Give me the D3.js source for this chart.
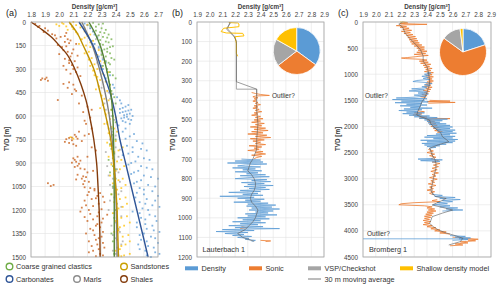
<!DOCTYPE html>
<html>
<head>
<meta charset="utf-8">
<script src="https://cdn.jsdelivr.net/npm/d3@7"></script>
<style>
  body { margin: 0; background: #fff; }
  svg { display: block; font-family: "Liberation Sans", Arial, sans-serif; }
  .tick text { fill: #404040; }
</style>
</head>
<body>
<svg id="chart" width="500" height="290"></svg>
<script>
// ---- panel (a): lithology scatter, [depth m, density g/cm3]
const shalesPts = [[12,1.83],[25,1.86],[32,1.85],[40,1.90],[55,1.92],[64,1.89],[70,2.05],[78,1.95],[90,2.04],[105,1.98],[118,2.08],[127,2.04],[140,2.12],[147,1.99],[160,2.02],[175,2.10],[190,2.06],[205,2.00],[220,2.08],[235,2.04],[250,2.11],[262,2.07],[275,2.09],[290,2.13],[305,2.05],[320,2.12],[345,2.15],[360,1.88],[365,1.90],[370,1.87],[375,1.92],[385,2.07],[400,2.10],[420,2.06],[440,2.12],[470,2.16],[498,1.99],[540,2.20],[575,2.17],[610,2.22],[650,2.19],[700,2.14],[715,2.21],[725,2.18],[732,2.12],[740,2.07],[748,2.05],[755,2.09],[765,2.04],[780,2.10],[800,2.23],[820,2.26],[860,2.20],[880,2.11],[892,2.12],[905,2.14],[918,2.13],[935,2.15],[950,2.24],[985,2.17],[1000,2.16],[1015,2.18],[1029,1.92],[1040,1.96],[1047,1.94],[1060,2.22],[1075,2.25],[1092,2.29],[1110,2.27],[1130,2.23],[1150,2.32],[1170,2.19],[1185,2.16],[1200,2.21],[1215,2.28],[1230,2.34],[1245,2.18],[1260,2.24],[1280,2.30],[1300,2.26],[1320,2.22],[1340,2.31],[1360,2.25],[1380,2.28],[1400,2.21],[1420,2.27],[1440,2.32],[1460,2.24],[1480,2.29],[1495,2.26],
  [1105,2.20],[1115,2.31],[1125,2.26],[1140,2.18],[1160,2.28],[1175,2.24],[1195,2.30],[1210,2.15],[1225,2.22],[1240,2.27],[1255,2.31],[1270,2.20],[1290,2.27],[1310,2.29],[1330,2.24],[1350,2.19],[1370,2.30],[1390,2.26],[1410,2.31],[1430,2.23],[1450,2.28],[1470,2.21],[1490,2.31],[860,2.13],[870,2.10],[885,2.15],[898,2.09],[925,2.11],[940,2.18],[960,2.20],[975,2.13],[990,2.19],[1005,2.12],[1020,2.21],[1035,2.17],[1055,2.18],[1065,2.25],[1085,2.21],[720,2.11],[738,2.09],[745,2.13],[760,2.16],[772,2.07],[790,2.12],[85,1.97],[95,2.01],[110,2.06],[135,2.07],[155,2.05],[180,2.03],[200,2.09],[215,2.13],[245,2.07],[280,2.03],[300,2.10],[330,2.08],[355,1.91],[395,2.03],[430,2.11],[460,2.09],[520,2.14],[560,2.23],[630,2.18],[680,2.23]];
const sandPts = [[5,2.02],[10,2.08],[15,1.98],[20,2.12],[28,2.05],[35,2.15],[45,2.10],[60,2.18],[75,2.13],[90,2.20],[110,2.16],[130,2.22],[150,2.19],[170,2.25],[190,2.21],[210,2.27],[230,2.23],[250,2.29],[270,2.25],[290,2.30],[310,2.24],[330,2.31],[350,2.27],[380,2.33],[410,2.28],[440,2.34],[470,2.30],[500,2.35],[530,2.31],[560,2.37],[590,2.33],[620,2.36],[650,2.32],[680,2.39],[710,2.35],[735,2.08],[745,2.10],[760,2.40],[790,2.36],[820,2.42],[850,2.38],[880,2.44],[910,2.37],[940,2.43],[970,2.39],[1000,2.45],[1030,2.38],[1060,2.44],[1090,2.40],[1120,2.47],[1150,2.39],[1180,2.45],[1210,2.41],[1240,2.48],[1270,2.40],[1300,2.46],[1330,2.42],[1360,2.49],[1390,2.41],[1420,2.47],[1450,2.43],[1480,2.50],[1495,2.44],
  [0,2.10],[8,2.15],[12,2.03],[18,2.20],[25,2.00],[30,2.09],[40,2.18],[50,2.06],[65,2.12],[80,2.22],[100,2.18],[120,2.24],[140,2.14],[160,2.22],[180,2.28],[200,2.18],[240,2.21],[260,2.32],[280,2.22],[300,2.27],[320,2.35],[340,2.25],[370,2.29],[400,2.36],[430,2.26],[460,2.37],[490,2.32],[520,2.38],[550,2.29],[580,2.35],[610,2.40],[640,2.34],[670,2.37],[700,2.41],[730,2.37],[770,2.34],[800,2.45],[830,2.39],[860,2.35],[890,2.41],[920,2.46],[950,2.40],[980,2.36],[1010,2.42],[1040,2.47],[1070,2.41],[1100,2.37],[1130,2.43],[1160,2.48],[1190,2.42],[1220,2.38],[1250,2.44],[1280,2.50],[1310,2.43],[1340,2.39],[1370,2.45],[1400,2.50],[1430,2.44],[1460,2.40],[1490,2.46]];
const carbPts = [[10,2.18],[40,2.22],[80,2.25],[120,2.23],[160,2.28],[200,2.26],[240,2.31],[280,2.30],[320,2.34],[360,2.33],[400,2.38],[440,2.36],[480,2.41],[520,2.44],[540,2.47],[555,2.43],[565,2.49],[575,2.45],[585,2.50],[595,2.46],[605,2.48],[615,2.44],[625,2.51],[640,2.47],[660,2.42],[700,2.45],[730,2.50],[760,2.55],[790,2.48],[810,2.58],[830,2.52],[850,2.45],[870,2.60],[890,2.54],[910,2.49],[930,2.62],[950,2.56],[970,2.51],[990,2.65],[1010,2.58],[1030,2.53],[1050,2.68],[1070,2.60],[1090,2.55],[1110,2.70],[1130,2.62],[1150,2.57],[1170,2.66],[1190,2.59],[1210,2.52],[1230,2.64],[1250,2.58],[1270,2.69],[1290,2.61],[1310,2.55],[1330,2.67],[1350,2.60],[1370,2.65],[1390,2.58],[1410,2.70],[1430,2.63],[1450,2.57],[1470,2.68],[1490,2.62],
  [20,2.20],[60,2.24],[100,2.27],[140,2.25],[180,2.30],[220,2.28],[260,2.33],[300,2.31],[340,2.36],[380,2.35],[420,2.39],[460,2.38],[500,2.43],[530,2.49],[548,2.45],[560,2.51],[570,2.47],[580,2.43],[590,2.48],[600,2.52],[610,2.46],[620,2.49],[632,2.45],[650,2.50],[680,2.47],[715,2.53],[745,2.47],[775,2.59],[800,2.52],[820,2.62],[840,2.49],[860,2.56],[880,2.64],[900,2.51],[920,2.58],[940,2.66],[960,2.53],[980,2.60],[1000,2.70],[1020,2.55],[1040,2.63],[1060,2.57],[1080,2.66],[1100,2.60],[1120,2.54],[1140,2.68],[1160,2.61],[1180,2.71],[1200,2.63],[1220,2.57],[1240,2.68],[1260,2.61],[1280,2.55],[1300,2.66],[1320,2.62],[1340,2.71],[1360,2.57],[1380,2.68],[1400,2.62],[1420,2.56],[1440,2.67],[1460,2.61],[1480,2.71],[1500,2.65]];
const clasticPts = [[5,2.24],[15,2.28],[25,2.22],[40,2.30],[55,2.26],[70,2.32],[85,2.28],[100,2.34],[115,2.29],[130,2.35],[145,2.31],[160,2.36],[175,2.32],[190,2.34],[210,2.30],[230,2.37],[250,2.33],[270,2.36],[300,2.34],[340,2.38],[400,2.36],[480,2.39],[560,2.37],[640,2.40],[720,2.38],[780,2.36],[840,2.39],[880,2.35],[920,2.38],[960,2.36],[1000,2.40],[1100,2.37],[1250,2.39],[1400,2.38],
  [10,2.31],[30,2.26],[50,2.33],[65,2.29],[80,2.35],[95,2.31],[110,2.37],[125,2.33],[140,2.29],[155,2.38],[170,2.34],[185,2.30],[200,2.36],[220,2.33],[240,2.39],[260,2.35],[280,2.31],[320,2.36],[360,2.40],[440,2.37],[520,2.40],[600,2.38],[680,2.37],[750,2.40],[810,2.37],[870,2.38],[940,2.40],[1050,2.38],[1200,2.40],[1350,2.37],[1480,2.39]];
const marlPts = [[20,2.20],[60,2.24],[110,2.26],[170,2.28],[230,2.31],[300,2.29],[380,2.33],[450,2.35],[520,2.32],[600,2.37],[650,2.34],[700,2.38],[750,2.36],[800,2.40],[830,2.33],[860,2.42],[900,2.37],[940,2.41],[980,2.35],[1020,2.43],[1060,2.38],[1100,2.42],[1140,2.36],[1180,2.44],[1220,2.39],[1260,2.41],[1300,2.37],[1340,2.43],[1380,2.40],[1420,2.44],[1460,2.38],[1490,2.42],
  [40,2.22],[90,2.27],[140,2.25],[200,2.30],[260,2.27],[340,2.32],[420,2.30],[490,2.36],[560,2.33],[625,2.39],[680,2.35],[725,2.40],[780,2.37],[815,2.43],[880,2.39],[920,2.34],[960,2.42],[1000,2.38],[1040,2.36],[1080,2.44],[1120,2.39],[1160,2.41],[1200,2.35],[1240,2.44],[1280,2.40],[1320,2.42],[1360,2.38],[1400,2.45],[1440,2.41],[1480,2.40]];

// trend curves
const shaleTrend = [[0,1.80],[50,1.88],[100,1.95],[150,2.00],[200,2.05],[300,2.11],[400,2.155],[500,2.19],[600,2.215],[750,2.245],[900,2.265],[1050,2.275],[1200,2.283],[1350,2.288],[1500,2.29]];
const sandTrend = [[0,2.07],[75,2.13],[150,2.17],[300,2.245],[450,2.29],[600,2.33],[750,2.365],[900,2.385],[1050,2.40],[1200,2.41],[1350,2.415],[1500,2.42]];
const clasticTrend = [[0,2.21],[75,2.255],[150,2.29],[300,2.335],[450,2.365],[600,2.38],[750,2.385],[900,2.388],[1200,2.39],[1500,2.39]];
const carbTrend = [[0,2.14],[150,2.24],[300,2.30],[450,2.36],[600,2.40],[750,2.43],[900,2.47],[1050,2.51],[1200,2.55],[1350,2.59],[1500,2.63]];
const marlTrend = [[0,2.16],[150,2.235],[300,2.285],[450,2.325],[600,2.355],[750,2.375],[900,2.39],[1050,2.40],[1200,2.405],[1500,2.41]];

const litho = ['Coarse grained clastics', 'Sandstones', 'Carbonates', 'Marls', 'Shales'];

// ---- panel (b): Lauterbach 1 ([depth, density], null = gap)
const lbShallow = [[3,2.15],[5,2.22],[10,2.23],[24,2.23],[32,2.11],[49,2.09],[56,2.13],[58,2.26],[71,2.27],[75,2.20],[110,2.21],[160,2.21],[175,2.22]];
const lbVsp = [[0,2.17],[35,2.13],[80,2.20],[100,2.21],[305,2.21],[343,2.21],[343,2.37],[380,2.37]];
const lbSonic = [[360,2.33],[365,2.36],[370,2.40],[375,2.47],[378,2.36],[382,2.34],[387,2.38],[392,2.35],[398,2.37],[404,2.34],[410,2.38],[416,2.36],[422,2.40],[428,2.35],[434,2.38],[440,2.34],[446,2.39],[452,2.36],[458,2.41],[464,2.35],[470,2.38],[476,2.33],[482,2.40],[488,2.36],[494,2.42],[500,2.35],[506,2.40],[512,2.33],[518,2.43],[524,2.36],[530,2.41],[536,2.32],[542,2.44],[548,2.35],[554,2.46],[560,2.33],[566,2.42],[572,2.30],[578,2.45],[584,2.36],[590,2.48],[596,2.32],[602,2.43],[608,2.34],[614,2.40],[620,2.36],[626,2.44],[632,2.31],[638,2.41],[644,2.35],[650,2.39],[656,2.30],[662,2.42],[668,2.36],[674,2.44],[680,2.33],[686,2.41],[692,2.37],[698,2.35],null,[1045,2.25],[1050,2.29],[1055,2.24],null,[1115,2.40],[1118,2.48],[1121,2.44]];
const lbDensity = [[700,2.25],[705,2.40],[710,2.20],[715,2.42],[720,2.14],[725,2.45],[730,2.28],[735,2.22],[740,2.40],[745,2.18],[750,2.36],[755,2.26],[760,2.41],[765,2.20],[770,2.38],[775,2.29],[780,2.44],[785,2.24],[790,2.47],[795,2.30],[800,2.20],[805,2.45],[810,2.33],[815,2.48],[820,2.25],[825,2.43],[830,2.30],[835,2.50],[840,2.27],[845,2.44],[850,2.31],[855,2.47],[860,2.24],[865,2.40],[870,2.15],[875,2.38],[880,2.26],[885,2.42],[890,2.08],[895,2.35],[900,2.22],[905,2.43],[910,2.28],[915,2.40],[920,2.19],[925,2.46],[930,2.30],[935,2.52],[940,2.29],[945,2.49],[950,2.33],[955,2.55],[960,2.31],[965,2.50],[970,2.36],[975,2.46],[980,2.28],[985,2.53],[990,2.30],[995,2.44],[1000,2.22],[1005,2.47],[1010,2.26],[1015,2.40],[1020,2.18],[1025,2.44],[1030,2.24],[1035,2.38],[1040,2.15],[1045,2.42],[1050,2.20],[1055,2.55],[1060,2.10],[1065,2.35],[1070,2.05],[1075,2.30],[1080,2.12],[1085,2.27],[1090,2.18],[1095,2.33],[1100,2.22],[1105,2.31],[1110,2.28],[1115,2.36],[1120,2.33]];
const lbAvg = [[0,2.16],[35,2.14],[70,2.19],[100,2.21],[305,2.21],[343,2.37],[380,2.37],[450,2.37],[520,2.38],[600,2.37],[650,2.37],[700,2.34],[720,2.32],[740,2.31],[760,2.30],[780,2.33],[800,2.35],[820,2.36],[840,2.36],[860,2.35],[880,2.33],[900,2.32],[920,2.33],[940,2.36],[960,2.38],[980,2.37],[1000,2.36],[1020,2.34],[1040,2.31],[1060,2.28],[1080,2.22],[1100,2.26],[1120,2.35]];
const lbShares = [35, 29.5, 18.7, 16.8];

// ---- panel (c): Bromberg 1
const bbShallow = [[0,2.19],[8,2.24],[15,2.22]];
const bbVsp = [[2420,2.42],[2450,2.43],[2500,2.44],[2550,2.44],[2600,2.45],null,[3150,2.43],[3200,2.44],[3250,2.44],[3300,2.45]];
const bbSonic = [[0,2.21],[15,2.25],[30,2.19],[45,2.40],[55,2.22],[70,2.16],[85,2.24],[100,2.19],[120,2.26],[140,2.21],[160,2.28],[180,2.20],[200,2.27],[220,2.22],[240,2.29],[260,2.24],[280,2.31],[300,2.25],[320,2.32],[340,2.26],[360,2.33],[380,2.27],[400,2.34],[420,2.28],[440,2.36],[460,2.30],[480,2.38],[500,2.32],[520,2.38],[540,2.33],[560,2.40],[580,2.32],[600,2.39],[620,2.30],[640,2.41],[660,2.33],[680,2.25],[690,2.20],[700,2.23],[715,2.36],[730,2.40],[750,2.34],[770,2.41],[790,2.35],[810,2.43],[830,2.37],[850,2.42],[870,2.38],[890,2.44],[910,2.39],[930,2.43],[950,2.38],[970,2.45],[990,2.40],[1010,2.44],[1030,2.39],[1050,2.45],[1070,2.40],[1090,2.44],[1110,2.41],[1130,2.45],[1150,2.40],[1170,2.44],[1190,2.39],[1210,2.43],[1230,2.38],[1250,2.44],[1270,2.39],[1290,2.43],[1310,2.37],[1330,2.42],[1350,2.38],[1370,2.41],[1390,2.36],[1410,2.40],[1430,2.35],[1450,2.39],null,
  [1500,2.42],[1515,2.58],[1525,2.40],[1540,2.62],[1555,2.41],null,
  [1700,2.33],[1720,2.38],[1740,2.30],[1760,2.36],[1780,2.29],[1800,2.35],[1820,2.40],[1840,2.34],[1850,2.58],[1860,2.44],[1880,2.40],[1900,2.46],[1920,2.41],[1940,2.47],[1960,2.42],[1980,2.48],[2000,2.43],[2020,2.49],[2040,2.45],[2060,2.51],[2080,2.46],[2100,2.52],[2120,2.48],null,
  [2440,2.41],[2470,2.45],[2500,2.40],[2530,2.46],[2560,2.42],[2590,2.47],[2620,2.43],[2650,2.49],[2680,2.44],[2710,2.50],[2740,2.45],[2770,2.49],[2800,2.44],[2830,2.48],[2860,2.43],[2890,2.49],[2920,2.44],[2950,2.47],[2980,2.42],[3010,2.48],[3040,2.43],[3070,2.46],[3100,2.41],[3130,2.47],[3160,2.42],[3190,2.45],[3220,2.40],[3250,2.46],[3280,2.42],[3310,2.45],null,
  [3400,2.48],[3420,2.44],[3440,2.50],[3460,2.30],[3480,2.20],[3500,2.18],[3520,2.38],[3540,2.44],[3560,2.40],[3580,2.46],[3600,2.41],[3620,2.47],[3640,2.40],[3660,2.45],[3680,2.39],[3700,2.44],[3720,2.38],[3740,2.43],[3760,2.38],[3780,2.42],[3800,2.37],[3820,2.43],[3840,2.38],[3860,2.42],[3880,2.37],[3900,2.44],[3920,2.40],[3940,2.47],[3960,2.43],[3980,2.50],[4000,2.46],[4020,2.55],[4040,2.50],[4060,2.58],null,
  [4120,2.60],[4140,2.70],[4160,2.80],[4175,2.72],[4190,2.78],[4210,2.66],[4230,2.72],[4250,2.62],[4270,2.68],[4285,2.58]];
const bbDensity = [[960,2.40],[980,2.43],[1000,2.38],[1020,2.42],[1040,2.36],[1060,2.41],[1080,2.37],[1100,2.42],[1120,2.32],[1140,2.29],[1160,2.40],[1180,2.44],[1200,2.38],[1220,2.42],[1240,2.36],[1260,2.40],[1280,2.28],[1300,2.38],[1320,2.26],[1340,2.40],[1360,2.33],[1380,2.41],[1400,2.30],[1420,2.39],
  [1440,2.30],[1455,2.16],[1470,2.40],[1485,2.13],[1500,2.38],[1515,2.20],[1530,2.41],[1545,2.15],[1560,2.36],[1575,2.24],[1590,2.40],[1605,2.19],[1620,2.35],[1635,2.27],[1650,2.44],[1665,2.22],[1680,2.36],[1695,2.18],[1710,2.33],[1725,2.24],[1740,2.38],[1755,2.21],[1770,2.35],[1785,2.26],[1800,2.42],[1815,2.30],[1830,2.48],[1845,2.34],[1860,2.56],[1875,2.38],[1890,2.52],[1905,2.40],[1920,2.50],[1935,2.41],[1950,2.55],[1965,2.42],[1980,2.58],[1995,2.44],[2010,2.60],[2025,2.45],[2040,2.58],[2055,2.47],[2070,2.62],[2085,2.48],[2100,2.60],[2115,2.50],[2130,2.63],[2145,2.47],[2160,2.58],[2175,2.40],[2190,2.62],[2205,2.38],[2220,2.60],[2235,2.45],[2250,2.64],[2265,2.35],[2280,2.62],[2295,2.40],[2310,2.60],[2325,2.36],[2340,2.55],[2355,2.38],[2370,2.50],[2385,2.40],[2400,2.47],[2415,2.42],null,
  [2610,2.45],[2625,2.33],[2640,2.52],[2655,2.35],[2670,2.50],[2685,2.44],null,
  [3300,2.44],[3320,2.52],[3340,2.46],[3360,2.62],[3380,2.50],[3400,2.66],[3420,2.52],[3440,2.60],[3460,2.48],[3480,2.56],[3500,2.45],[3520,2.58],[3540,2.50],[3560,2.64],[3580,2.55],[3600,2.68],[3620,2.52],null,
  [4090,2.58],[4105,2.70],[4120,2.62],[4135,2.74],[4150,2.65],[4165,2.72],[4180,2.60],null,
  [4152,1.90],[4152,2.72]];
const bbAvg = [[0,2.21],[40,2.18],[100,2.21],[217,2.23],[300,2.26],[377,2.29],[450,2.32],[536,2.35],[650,2.37],[750,2.37],[856,2.40],[950,2.41],[1111,2.42],[1200,2.42],[1270,2.41],[1350,2.40],[1461,2.38],[1530,2.36],[1622,2.345],[1700,2.33],[1781,2.32],[1830,2.37],[1877,2.42],[1950,2.43],[2005,2.45],[2070,2.48],[2132,2.51],[2196,2.52],[2250,2.55],[2292,2.57],[2350,2.49],[2419,2.42],[2480,2.43],[2547,2.44],[2620,2.46],[2706,2.47],[2800,2.47],[2897,2.46],[3000,2.45],[3121,2.44],[3217,2.43],[3280,2.44],[3345,2.47],[3377,2.55],[3440,2.50],[3504,2.44],[3550,2.52],[3600,2.60],[3660,2.52],[3728,2.44],[3800,2.43],[3855,2.42],[3920,2.45],[3983,2.49],[4040,2.55],[4098,2.63],[4143,2.68],[4206,2.66],[4270,2.57]];
const bbShares = [20, 65, 13, 2];

const logSeries = ['Density', 'Sonic', 'VSP/Checkshot', 'Shallow density model'];

const densTicksA = [1.8, 1.9, 2.0, 2.1, 2.2, 2.3, 2.4, 2.5, 2.6, 2.7];
const densTicksBC = [1.9, 2.0, 2.1, 2.2, 2.3, 2.4, 2.5, 2.6, 2.7, 2.8, 2.9];
const depthTicksA = [0, 150, 300, 450, 600, 750, 900, 1050, 1200, 1350, 1500];
const depthTicksB = [0, 100, 200, 300, 400, 500, 600, 700, 800, 900, 1000, 1100, 1200];
const depthTicksC = [0, 500, 1000, 1500, 2000, 2500, 3000, 3500, 4000, 4500];

const lithoColor = { 'Coarse grained clastics': '#70AD47', 'Sandstones': '#FFC000', 'Carbonates': '#5B9BD5', 'Marls': '#A5A5A5', 'Shales': '#C55A11' };
const lithoLine = { 'Coarse grained clastics': '#548235', 'Sandstones': '#BF9000', 'Carbonates': '#2F5597', 'Marls': '#7F7F7F', 'Shales': '#843C0C' };
const lithoRing = { 'Coarse grained clastics': '#70AD47', 'Sandstones': '#C9A000', 'Carbonates': '#2F5597', 'Marls': '#8C8C8C', 'Shales': '#843C0C' };
const logColor = ['#5B9BD5', '#ED7D31', '#A5A5A5', '#FFC000'];

const svg = d3.select('#chart');

function makePanel (label, x0, x1, dom, dTicks, yMax, yTicks, tvdX) {
  const x = d3.scaleLinear().domain(dom).range([x0, x1]);
  const y = d3.scaleLinear().domain([0, yMax]).range([22, 257]);
  const g = svg.append('g');
  // grid
  g.selectAll('.vg').data(dTicks).join('line')
    .attr('x1', d => x(d)).attr('x2', d => x(d)).attr('y1', 22).attr('y2', 257)
    .attr('stroke', '#E3E3E3').attr('stroke-width', 0.6);
  g.selectAll('.hg').data(yTicks).join('line')
    .attr('x1', x0).attr('x2', x1).attr('y1', d => y(d)).attr('y2', d => y(d))
    .attr('stroke', '#E3E3E3').attr('stroke-width', 0.6);
  // axes
  const ax = g.append('g').attr('transform', 'translate(0,22)')
    .call(d3.axisTop(x).tickValues(dTicks).tickSize(0).tickPadding(5).tickFormat(d3.format('.1f')));
  const ay = g.append('g').attr('transform', `translate(${x0},0)`)
    .call(d3.axisLeft(y).tickValues(yTicks).tickSize(0).tickPadding(5).tickFormat(d => d));
  ax.select('.domain').remove(); ay.select('.domain').remove();
  ax.selectAll('text').attr('font-size', 6.3);
  ay.selectAll('text').attr('font-size', 6.3);
  g.append('text').attr('x', (x0 + x1) / 2).attr('y', 8.5).attr('text-anchor', 'middle')
    .attr('font-size', 6.3).attr('font-weight', 'bold').attr('fill', '#404040').text('Density [g/cm³]');
  g.append('text').attr('transform', `translate(${tvdX},139) rotate(-90)`).attr('text-anchor', 'middle')
    .attr('font-size', 6.3).attr('font-weight', 'bold').attr('fill', '#404040').text('TVD [m]');
  g.append('text').attr('x', x0 - 25).attr('y', 15.5).attr('font-size', 9).attr('fill', '#222').text(label);
  const plot = g.append('g');
  g.append('rect').attr('x', x0).attr('y', 22).attr('width', x1 - x0).attr('height', 235)
    .attr('fill', 'none').attr('stroke', '#A6A6A6').attr('stroke-width', 0.8);
  return { x, y, plot };
}

// ---------- panel (a)
const pa = makePanel('(a)', 31, 158, [1.8, 2.7], densTicksA, 1500, depthTicksA, 9);
const ptsBy = { 'Coarse grained clastics': clasticPts, 'Sandstones': sandPts, 'Carbonates': carbPts, 'Marls': marlPts, 'Shales': shalesPts };
const trendBy = { 'Coarse grained clastics': clasticTrend, 'Sandstones': sandTrend, 'Carbonates': carbTrend, 'Marls': marlTrend, 'Shales': shaleTrend };
const drawOrder = ['Shales', 'Marls', 'Carbonates', 'Sandstones', 'Coarse grained clastics'];
drawOrder.forEach(k => {
  pa.plot.append('g').selectAll('rect').data(ptsBy[k]).join('rect')
    .attr('x', d => pa.x(d[1]) - 0.9).attr('y', d => pa.y(d[0]) - 0.9)
    .attr('width', 1.8).attr('height', 1.8)
    .attr('fill', lithoColor[k]).attr('opacity', 0.75);
});
const trendLine = d3.line().x(d => pa.x(d[1])).y(d => pa.y(d[0])).curve(d3.curveMonotoneY);
['Marls', 'Carbonates', 'Coarse grained clastics', 'Sandstones', 'Shales'].forEach(k => {
  pa.plot.append('path').attr('d', trendLine(trendBy[k]))
    .attr('fill', 'none').attr('stroke', lithoLine[k]).attr('stroke-width', 1.4);
});

// ---------- panels (b) and (c)
function drawLogs (p, shallow, vsp, sonic, dens, avg) {
  const line = d3.line().defined(d => d !== null).x(d => p.x(d[1])).y(d => p.y(d[0]));
  const path = (data, color, w, op) => p.plot.append('path').attr('d', line(data))
    .attr('fill', 'none').attr('stroke', color).attr('stroke-width', w).attr('opacity', op);
  path(vsp, logColor[2], 1, 1);
  path(shallow, logColor[3], 1, 1);
  path(sonic, logColor[1], 0.9, 0.9);
  path(dens, logColor[0], 0.9, 0.85);
  path(avg, '#595959', 0.6, 1);
}

const pb = makePanel('(b)', 197, 324, [1.9, 2.9], densTicksBC, 1200, depthTicksB, 175);
drawLogs(pb, lbShallow, lbVsp, lbSonic, lbDensity, lbAvg);
const pc = makePanel('(c)', 363, 491, [1.9, 2.9], densTicksBC, 4500, depthTicksC, 340);
drawLogs(pc, bbShallow, bbVsp, bbSonic, bbDensity, bbAvg);

const note = (x, yy, t) => svg.append('text').attr('x', x).attr('y', yy).attr('font-size', 6.5).attr('fill', '#333').text(t);
note(272, 98, 'Outlier?');
note(365, 98, 'Outlier?');
note(367, 236, 'Outlier?');
svg.append('text').attr('x', 202.5).attr('y', 252).attr('font-size', 7.3).attr('fill', '#333').text('Lauterbach 1');
svg.append('text').attr('x', 369).attr('y', 252).attr('font-size', 7.3).attr('fill', '#333').text('Bromberg 1');

// pies
const pie = d3.pie().sort(null);
const arc = d3.arc().innerRadius(0).outerRadius(23.5);
function drawPie (cx, cy, shares) {
  svg.append('g').attr('transform', `translate(${cx},${cy})`)
    .selectAll('path').data(pie(shares)).join('path')
    .attr('d', arc).attr('fill', (d, i) => logColor[i])
    .attr('stroke', '#fff').attr('stroke-width', 0.8);
}
drawPie(296.7, 51, lbShares);
drawPie(463, 52, bbShares);

// legend (a)
const legA = [
  { k: 'Coarse grained clastics', x: 9.5, y: 266.5 },
  { k: 'Sandstones', x: 124, y: 266.5 },
  { k: 'Carbonates', x: 9.5, y: 279 },
  { k: 'Marls', x: 77, y: 279 },
  { k: 'Shales', x: 124, y: 279 }
];
legA.forEach(d => {
  svg.append('circle').attr('cx', d.x).attr('cy', d.y).attr('r', 3.3)
    .attr('fill', '#fff').attr('stroke', lithoRing[d.k]).attr('stroke-width', 1.4);
  svg.append('text').attr('x', d.x + 6.5).attr('y', d.y + 2.6).attr('font-size', 7.3).attr('fill', '#333').text(d.k);
});

// legend (b,c)
const legX = [185, 249, 308, 400];
logSeries.forEach((s, i) => {
  svg.append('rect').attr('x', legX[i]).attr('y', 266.3).attr('width', 13).attr('height', 4).attr('fill', logColor[i]);
  svg.append('text').attr('x', legX[i] + 16.5).attr('y', 270.8).attr('font-size', 7.3).attr('fill', '#333').text(s);
});
svg.append('line').attr('x1', 308).attr('x2', 321).attr('y1', 279).attr('y2', 279).attr('stroke', '#595959').attr('stroke-width', 0.8);
svg.append('text').attr('x', 324.5).attr('y', 281.6).attr('font-size', 7.3).attr('fill', '#333').text('30 m moving average');
</script>
</body>
</html>
